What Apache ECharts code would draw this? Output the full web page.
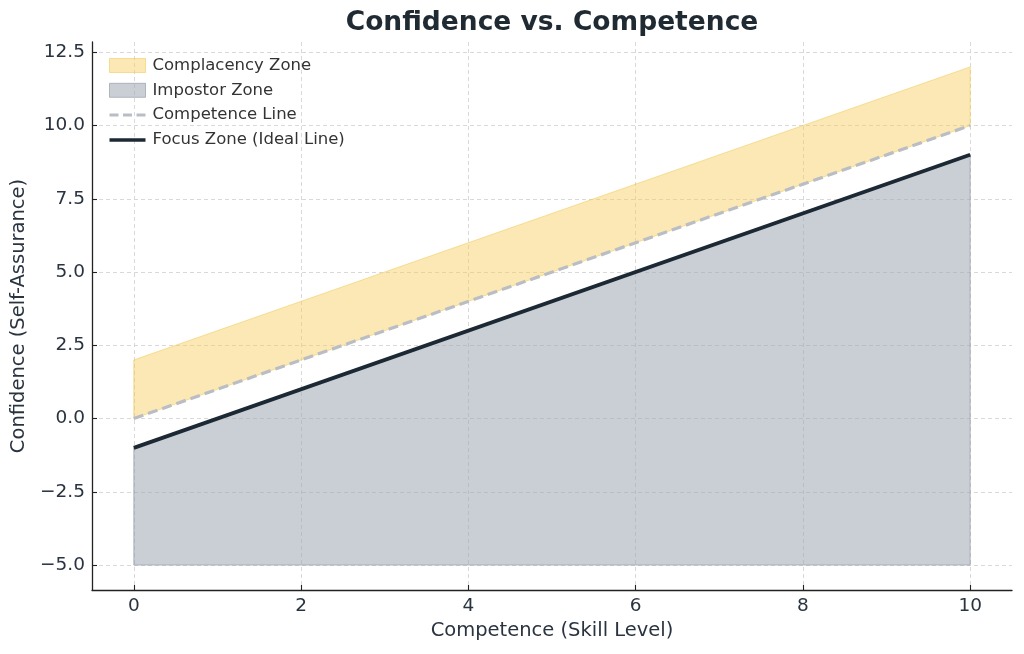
<!DOCTYPE html>
<html>
<head>
<meta charset="utf-8">
<script src="https://cdn.jsdelivr.net/npm/echarts@6/dist/echarts.min.js"></script>
<style>
  html, body { margin: 0; padding: 0; background: #fff; }
  #chart { width: 1024px; height: 654px; }
</style>
</head>
<body>
<div id="chart"></div>
<script>
// data
var skill = [0, 10];
var competence = [0, 10];
var complacencyTop = [2, 12];
var focusLine = [-1, 9];
var impostorFloor = [-5, -5];

var xTicks = [0, 2, 4, 6, 8, 10];
var yTicks = [-5, -2.5, 0, 2.5, 5, 7.5, 10, 12.5];

function pairs(xs, ys) {
  return xs.map(function (x, i) { return [x, ys[i]]; });
}
// one item per segment: [x0, lo0, hi0, x1, lo1, hi1]
function bands(xs, lo, hi) {
  var out = [];
  for (var i = 0; i < xs.length - 1; i++) {
    out.push([xs[i], lo[i], hi[i], xs[i + 1], lo[i + 1], hi[i + 1]]);
  }
  return out;
}
function bandItem(fill, edge) {
  return function (params, api) {
    var a = api.coord([api.value(0), api.value(1)]);
    var b = api.coord([api.value(0), api.value(2)]);
    var c = api.coord([api.value(3), api.value(5)]);
    var d = api.coord([api.value(3), api.value(4)]);
    return {
      type: 'polygon',
      shape: { points: [a, b, c, d] },
      style: { fill: fill, stroke: edge, lineWidth: 1 }
    };
  };
}

var font = 'DejaVu Sans';
var yellowFill = 'rgba(246, 205, 90, 0.45)';
var yellowEdge = 'rgba(240, 200, 80, 0.55)';
var greyFill = 'rgba(160, 168, 180, 0.56)';
var greyEdge = 'rgba(140, 148, 160, 0.6)';
var textColor = '#2a3440';

var chart = echarts.init(document.getElementById('chart'));

chart.setOption({
  animation: false,
  backgroundColor: '#fff',
  textStyle: { fontFamily: font },
  title: {
    text: 'Confidence vs. Competence',
    left: 547,
    textAlign: 'center',
    top: 5,
    textStyle: { fontFamily: font, fontSize: 26.5, fontWeight: 'bold', color: '#1f2a33' }
  },
  grid: { left: 92, right: 12, top: 42, bottom: 64 },
  legend: {
    orient: 'vertical',
    left: 104,
    top: 52,
    itemWidth: 36,
    itemHeight: 14,
    itemGap: 7.8,
    textStyle: { fontFamily: font, fontSize: 16.5, color: '#333', padding: [0, 0, 0, 2] },
    data: [
      { name: 'Complacency Zone', icon: 'rect', itemStyle: { color: yellowFill, borderColor: yellowEdge, borderWidth: 1 } },
      { name: 'Impostor Zone', icon: 'rect', itemStyle: { color: greyFill, borderColor: greyEdge, borderWidth: 1 } },
      { name: 'Competence Line', icon: 'path://M0,0h9v3h-9z M13.5,0h9v3h-9z M27,0h9v3h-9z', itemStyle: { color: '#babec4' } },
      { name: 'Focus Zone (Ideal Line)', icon: 'path://M0,0h36v3.5h-36z', itemStyle: { color: '#1c2833' } }
    ]
  },
  xAxis: {
    type: 'value',
    min: -0.5,
    max: 10.5,
    name: 'Competence (Skill Level)',
    nameLocation: 'middle',
    nameGap: 31,
    nameTextStyle: { fontFamily: font, fontSize: 19.5, color: textColor },
    axisLine: { show: true, onZero: false, lineStyle: { color: '#222', width: 1.3 } },
    axisTick: { show: true, inside: true, length: 5, customValues: xTicks, lineStyle: { color: '#222', width: 1.1 } },
    axisLabel: { customValues: xTicks, fontFamily: font, fontSize: 18.5, color: textColor, margin: 7 },
    splitLine: { show: true, lineStyle: { color: '#cfcfcf', width: 0.8, type: [4, 3] } }
  },
  yAxis: {
    type: 'value',
    min: -5.85,
    max: 12.85,
    name: 'Confidence (Self-Assurance)',
    nameLocation: 'middle',
    nameGap: 60,
    nameTextStyle: { fontFamily: font, fontSize: 19.5, color: textColor },
    axisLine: { show: true, onZero: false, lineStyle: { color: '#222', width: 1.3 } },
    axisTick: { show: true, inside: true, length: 5, customValues: yTicks, lineStyle: { color: '#222', width: 1.1 } },
    axisLabel: {
      customValues: yTicks,
      fontFamily: font, fontSize: 18.5, color: textColor, margin: 7,
      formatter: function (v) { return v.toFixed(1).replace('-', '\u2212'); }
    },
    splitLine: { show: true, lineStyle: { color: '#cfcfcf', width: 0.8, type: [4, 3] } }
  },
  series: [
    {
      name: 'Complacency Zone',
      type: 'custom',
      color: yellowFill,
      renderItem: bandItem(yellowFill, yellowEdge),
      data: bands(skill, competence, complacencyTop),
      encode: { x: [0, 3], y: [1, 2, 4, 5] },
      z: 1
    },
    {
      name: 'Impostor Zone',
      type: 'custom',
      color: greyFill,
      renderItem: bandItem(greyFill, greyEdge),
      data: bands(skill, impostorFloor, focusLine),
      encode: { x: [0, 3], y: [1, 2, 4, 5] },
      z: 2
    },
    {
      name: 'Competence Line',
      type: 'line',
      data: pairs(skill, competence),
      symbol: 'none',
      color: '#babec4',
      lineStyle: { color: '#babec4', width: 3.2, type: [10, 5] },
      z: 3
    },
    {
      name: 'Focus Zone (Ideal Line)',
      type: 'line',
      data: pairs(skill, focusLine),
      symbol: 'none',
      color: '#1c2833',
      lineStyle: { color: '#1c2833', width: 3.8 },
      z: 4
    }
  ]
});
</script>
</body>
</html>
